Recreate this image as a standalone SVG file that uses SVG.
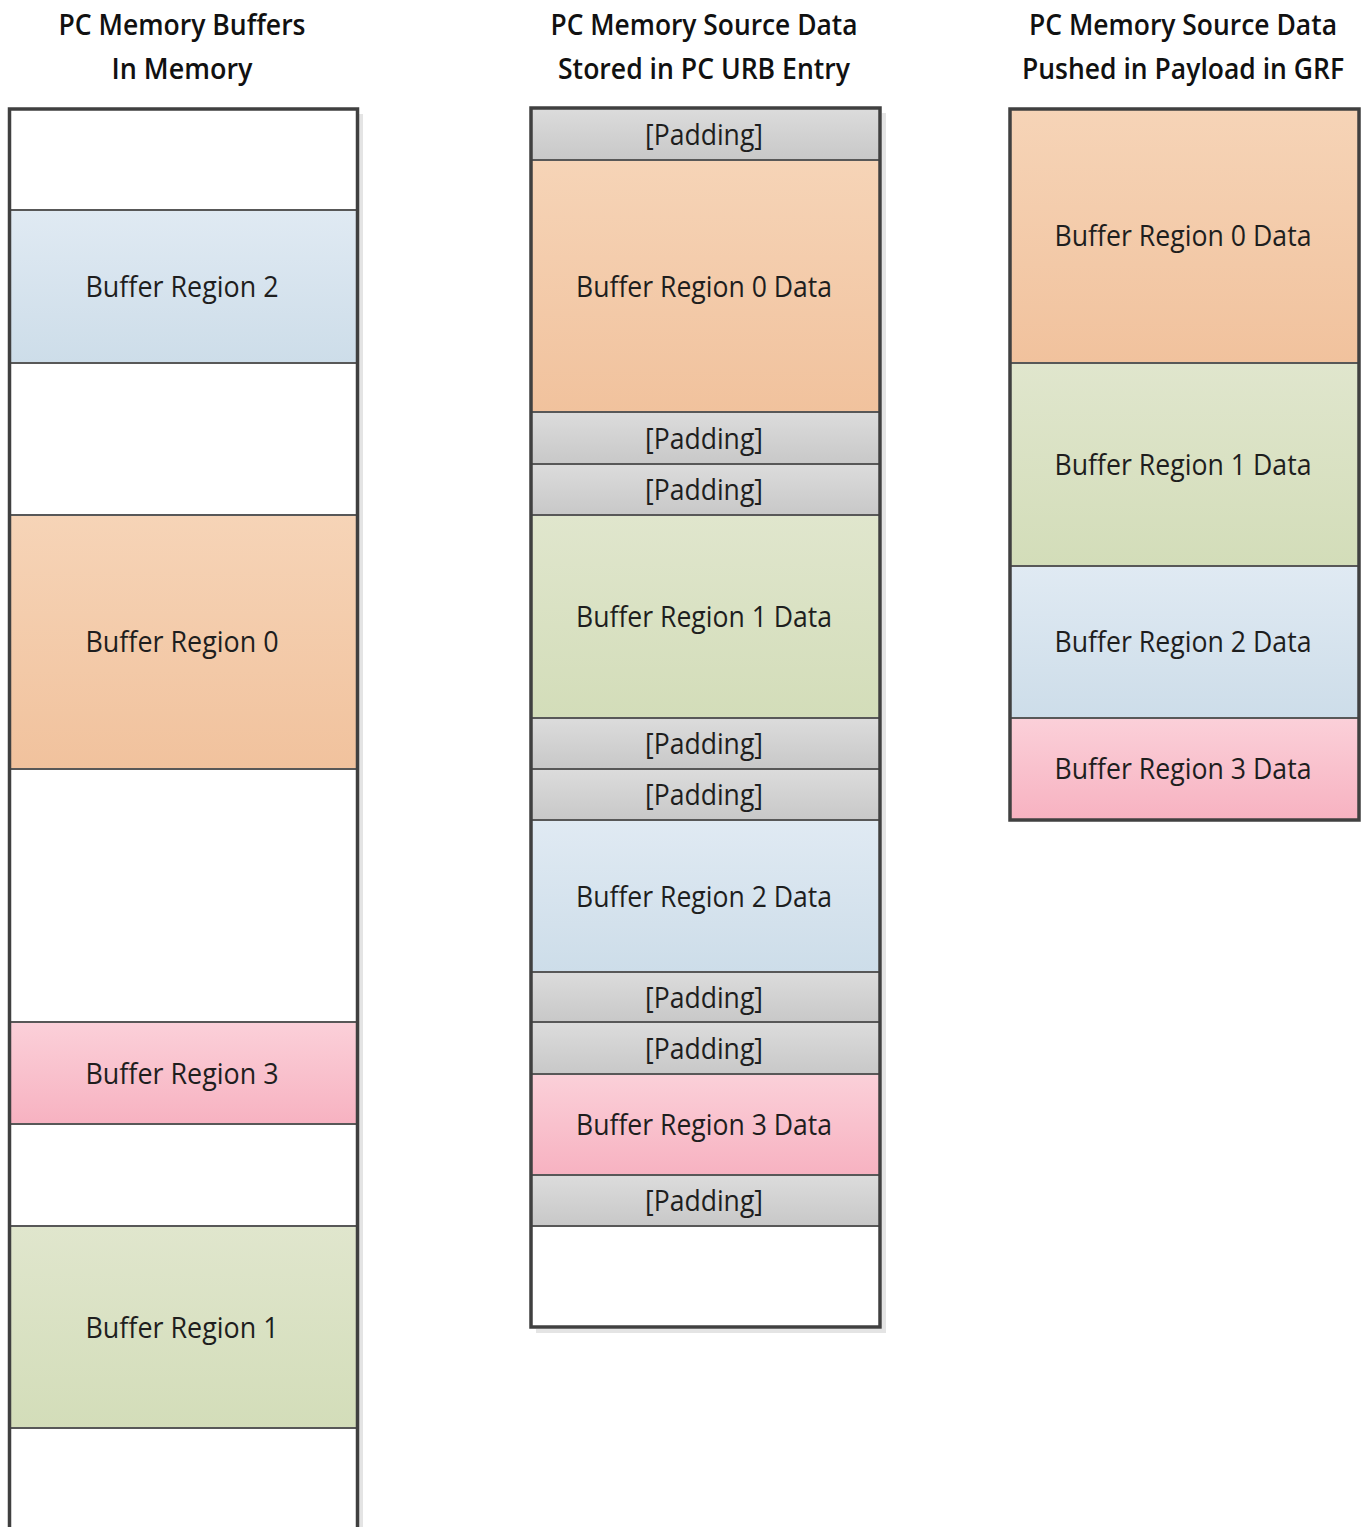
<svg xmlns="http://www.w3.org/2000/svg" width="1362" height="1527" viewBox="0 0 1362 1527">
<defs>
<linearGradient id="gOr" x1="0" y1="0" x2="0" y2="1"><stop offset="0" stop-color="#f6d4b7"/><stop offset="1" stop-color="#f1c29d"/></linearGradient>
<linearGradient id="gBl" x1="0" y1="0" x2="0" y2="1"><stop offset="0" stop-color="#e0eaf3"/><stop offset="1" stop-color="#cddde9"/></linearGradient>
<linearGradient id="gGr" x1="0" y1="0" x2="0" y2="1"><stop offset="0" stop-color="#e0e6cd"/><stop offset="1" stop-color="#d3ddb9"/></linearGradient>
<linearGradient id="gPk" x1="0" y1="0" x2="0" y2="1"><stop offset="0" stop-color="#fbd0d9"/><stop offset="1" stop-color="#f7b2c1"/></linearGradient>
<linearGradient id="gPd" x1="0" y1="0" x2="0" y2="1"><stop offset="0" stop-color="#dcdcdc"/><stop offset="1" stop-color="#c8c8c8"/></linearGradient>
</defs>
<style>
.t{font-family:"Open Sans","Liberation Sans",sans-serif;font-size:29px;font-weight:600;fill:#111;text-anchor:middle}
.l{font-family:"Open Sans","Liberation Sans",sans-serif;font-size:30px;fill:#1e1e1e;text-anchor:middle}
.div{stroke:#585858;stroke-width:2}
.frame{fill:none;stroke:#404040;stroke-width:3.5}
.sh{fill:none;stroke:#e4e4e4;stroke-width:4}
</style>
<g id="titles">
<text class="t" x="182" y="35" textLength="247" lengthAdjust="spacingAndGlyphs">PC Memory Buffers</text>
<text class="t" x="182" y="79" textLength="141" lengthAdjust="spacingAndGlyphs">In Memory</text>
<text class="t" x="704" y="35" textLength="307" lengthAdjust="spacingAndGlyphs">PC Memory Source Data</text>
<text class="t" x="704" y="79" textLength="292" lengthAdjust="spacingAndGlyphs">Stored in PC URB Entry</text>
<text class="t" x="1183" y="35" textLength="308" lengthAdjust="spacingAndGlyphs">PC Memory Source Data</text>
<text class="t" x="1183" y="79" textLength="322" lengthAdjust="spacingAndGlyphs">Pushed in Payload in GRF</text>
</g>
<!-- Left column -->
<g id="col-memory">
<line class="sh" x1="361" y1="114" x2="361" y2="1527"/>
<rect x="12" y="111" width="344" height="1430" fill="#fff"/>
<g id="mem-r2"><rect x="11" y="210" width="346" height="153" fill="url(#gBl)"/><text class="l" x="182" y="297" textLength="193" lengthAdjust="spacingAndGlyphs">Buffer Region 2</text></g>
<g id="mem-r0"><rect x="11" y="515" width="346" height="254" fill="url(#gOr)"/><text class="l" x="182" y="652" textLength="193" lengthAdjust="spacingAndGlyphs">Buffer Region 0</text></g>
<g id="mem-r3"><rect x="11" y="1022" width="346" height="102" fill="url(#gPk)"/><text class="l" x="182" y="1084" textLength="193" lengthAdjust="spacingAndGlyphs">Buffer Region 3</text></g>
<g id="mem-r1"><rect x="11" y="1226" width="346" height="202" fill="url(#gGr)"/><text class="l" x="182" y="1338" textLength="193" lengthAdjust="spacingAndGlyphs">Buffer Region 1</text></g>
<g class="div">
<line x1="11" y1="210" x2="357" y2="210"/><line x1="11" y1="363" x2="357" y2="363"/>
<line x1="11" y1="515" x2="357" y2="515"/><line x1="11" y1="769" x2="357" y2="769"/>
<line x1="11" y1="1022" x2="357" y2="1022"/><line x1="11" y1="1124" x2="357" y2="1124"/>
<line x1="11" y1="1226" x2="357" y2="1226"/><line x1="11" y1="1428" x2="357" y2="1428"/>
</g>
<rect class="frame" x="9.5" y="109" width="348" height="1440"/>
</g>
<!-- Middle column -->
<g id="col-urb">
<polyline class="sh" points="884,113 884,1331 536,1331"/>
<rect x="532" y="109" width="347" height="1217" fill="#fff"/>
<g id="urb-p0"><rect x="532" y="108" width="347" height="52" fill="url(#gPd)"/><text class="l" x="704" y="145" textLength="118" lengthAdjust="spacingAndGlyphs">[Padding]</text></g>
<g id="urb-r0"><rect x="532" y="160" width="347" height="252" fill="url(#gOr)"/><text class="l" x="704" y="297" textLength="256" lengthAdjust="spacingAndGlyphs">Buffer Region 0 Data</text></g>
<g id="urb-p1"><rect x="532" y="412" width="347" height="52" fill="url(#gPd)"/><text class="l" x="704" y="449" textLength="118" lengthAdjust="spacingAndGlyphs">[Padding]</text></g>
<g id="urb-p2"><rect x="532" y="464" width="347" height="51" fill="url(#gPd)"/><text class="l" x="704" y="500" textLength="118" lengthAdjust="spacingAndGlyphs">[Padding]</text></g>
<g id="urb-r1"><rect x="532" y="515" width="347" height="203" fill="url(#gGr)"/><text class="l" x="704" y="627" textLength="256" lengthAdjust="spacingAndGlyphs">Buffer Region 1 Data</text></g>
<g id="urb-p3"><rect x="532" y="718" width="347" height="51" fill="url(#gPd)"/><text class="l" x="704" y="754" textLength="118" lengthAdjust="spacingAndGlyphs">[Padding]</text></g>
<g id="urb-p4"><rect x="532" y="769" width="347" height="51" fill="url(#gPd)"/><text class="l" x="704" y="805" textLength="118" lengthAdjust="spacingAndGlyphs">[Padding]</text></g>
<g id="urb-r2"><rect x="532" y="820" width="347" height="152" fill="url(#gBl)"/><text class="l" x="704" y="907" textLength="256" lengthAdjust="spacingAndGlyphs">Buffer Region 2 Data</text></g>
<g id="urb-p5"><rect x="532" y="972" width="347" height="50" fill="url(#gPd)"/><text class="l" x="704" y="1008" textLength="118" lengthAdjust="spacingAndGlyphs">[Padding]</text></g>
<g id="urb-p6"><rect x="532" y="1022" width="347" height="52" fill="url(#gPd)"/><text class="l" x="704" y="1059" textLength="118" lengthAdjust="spacingAndGlyphs">[Padding]</text></g>
<g id="urb-r3"><rect x="532" y="1074" width="347" height="101" fill="url(#gPk)"/><text class="l" x="704" y="1135" textLength="256" lengthAdjust="spacingAndGlyphs">Buffer Region 3 Data</text></g>
<g id="urb-p7"><rect x="532" y="1175" width="347" height="51" fill="url(#gPd)"/><text class="l" x="704" y="1211" textLength="118" lengthAdjust="spacingAndGlyphs">[Padding]</text></g>
<g class="div">
<line x1="532" y1="160" x2="879" y2="160"/><line x1="532" y1="412" x2="879" y2="412"/>
<line x1="532" y1="464" x2="879" y2="464"/><line x1="532" y1="515" x2="879" y2="515"/>
<line x1="532" y1="718" x2="879" y2="718"/><line x1="532" y1="769" x2="879" y2="769"/>
<line x1="532" y1="820" x2="879" y2="820"/><line x1="532" y1="972" x2="879" y2="972"/>
<line x1="532" y1="1022" x2="879" y2="1022"/><line x1="532" y1="1074" x2="879" y2="1074"/>
<line x1="532" y1="1175" x2="879" y2="1175"/><line x1="532" y1="1226" x2="879" y2="1226"/>
</g>
<rect class="frame" x="531" y="108" width="349" height="1219"/>
</g>
<!-- Right column -->
<g id="col-grf">
<g id="grf-r0"><rect x="1011" y="109" width="347" height="254" fill="url(#gOr)"/><text class="l" x="1183" y="246" textLength="257" lengthAdjust="spacingAndGlyphs">Buffer Region 0 Data</text></g>
<g id="grf-r1"><rect x="1011" y="363" width="347" height="203" fill="url(#gGr)"/><text class="l" x="1183" y="475" textLength="257" lengthAdjust="spacingAndGlyphs">Buffer Region 1 Data</text></g>
<g id="grf-r2"><rect x="1011" y="566" width="347" height="152" fill="url(#gBl)"/><text class="l" x="1183" y="652" textLength="257" lengthAdjust="spacingAndGlyphs">Buffer Region 2 Data</text></g>
<g id="grf-r3"><rect x="1011" y="718" width="347" height="102" fill="url(#gPk)"/><text class="l" x="1183" y="779" textLength="257" lengthAdjust="spacingAndGlyphs">Buffer Region 3 Data</text></g>
<g class="div">
<line x1="1011" y1="363" x2="1358" y2="363"/><line x1="1011" y1="566" x2="1358" y2="566"/>
<line x1="1011" y1="718" x2="1358" y2="718"/>
</g>
<rect class="frame" x="1010" y="109" width="349" height="711"/>
</g>
<g id="connectors"/>
</svg>
